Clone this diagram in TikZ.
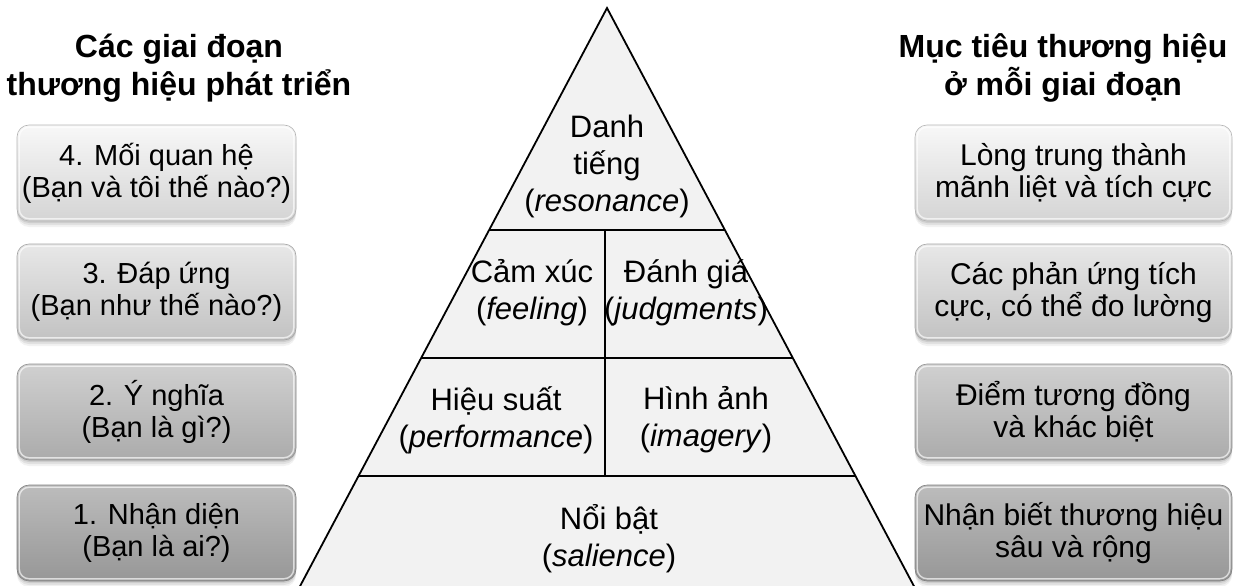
\documentclass[tikz,border=0pt]{standalone}
\usepackage{fontspec}
\setmainfont{Liberation Sans}
\usetikzlibrary{calc}

% fills of the bevelled stage boxes, lightest (top stage) to darkest
\definecolor{lvfourtop}{HTML}{F8F8F8}
\definecolor{lvfourbot}{HTML}{D4D4D4}
\definecolor{lvthreetop}{HTML}{E8E8E8}
\definecolor{lvthreebot}{HTML}{C2C2C2}
\definecolor{lvtwotop}{HTML}{D0D0D0}
\definecolor{lvtwobot}{HTML}{ABABAB}
\definecolor{lvonetop}{HTML}{BCBCBC}
\definecolor{lvonebot}{HTML}{979797}
\definecolor{pyrfill}{HTML}{F2F2F2}

\begin{document}
\begin{tikzpicture}[x=1pt,y=-1pt,
  pyrline/.style={line width=1.8pt, line cap=butt},
  lbl/.style={align=center, font=\fontsize{31}{37}\selectfont, inner sep=0pt},
  head/.style={align=center, font=\bfseries\fontsize{32}{38}\selectfont, inner sep=0pt},
  stagebox/.style 2 args={rounded corners=12pt, minimum height=96pt,
    inner sep=0pt, align=center, font=\fontsize{29}{32}\selectfont,
    top color=#1, bottom color=#2, draw=#2!85!black, line width=0.6pt,
    preaction={fill=black, fill opacity=0.05, transform canvas={yshift=-6pt}},
    preaction={fill=black, fill opacity=0.07, transform canvas={yshift=-4pt}},
    preaction={fill=black, fill opacity=0.09, transform canvas={yshift=-2pt}}},
  leftbox/.style={minimum width=279pt},
  rightbox/.style={minimum width=317pt, font=\fontsize{30}{32}\selectfont},
  rim/.style={draw=white, draw opacity=0.65, line width=1.4pt, rounded corners=10pt},
]
\useasboundingbox (0,0) rectangle (1240,586);

% ---------- pyramid ----------
\coordinate (apex) at (607,8);
\coordinate (bl) at (298,590);
\coordinate (br) at (916,590);
\fill[pyrfill] (apex) -- (bl) -- (br) -- cycle;
\draw[pyrline, line join=miter] (bl) -- (apex) -- (br);

\coordinate (l1) at ($(apex)!0.3814!(bl)$);
\coordinate (r1) at ($(apex)!0.3814!(br)$);
\coordinate (l2) at ($(apex)!0.6014!(bl)$);
\coordinate (r2) at ($(apex)!0.6014!(br)$);
\coordinate (l3) at ($(apex)!0.8041!(bl)$);
\coordinate (r3) at ($(apex)!0.8041!(br)$);
\coordinate (dtop) at (605,230);
\coordinate (dbot) at (605,476);

\draw[pyrline] (l1) -- (r1);
\draw[pyrline] (l2) -- (r2);
\draw[pyrline] (l3) -- (r3);
\draw[pyrline] (dtop) -- (dbot);

\node[lbl] (resonance) at (607,166) {Danh\\tiếng\\(\textit{resonance})};
\node[lbl] (feeling) at (532,293) {Cảm xúc\\(\textit{feeling})};
\node[lbl] (judgments) at (686,293) {Đánh giá\\(\textit{judgments})};
\node[lbl] (performance) at (496,420) {Hiệu suất\\(\textit{performance})};
\node[lbl] (imagery) at (706,420) {Hình ảnh\\(\textit{imagery})};
\node[lbl] (salience) at (609,539) {Nổi bật\\(\textit{salience})};

% ---------- column headings ----------
\node[head] (lefthead) at (179,68) {Các giai đoạn\\thương hiệu phát triển};
\node[head] (righthead) at (1063,68) {Mục tiêu thương hiệu\\ở mỗi giai đoạn};

% ---------- stages (left) ----------
\node[stagebox={lvfourtop}{lvfourbot}, leftbox] (st4) at (156.5,173) {4. Mối quan hệ\\(Bạn và tôi thế nào?)};
\node[stagebox={lvthreetop}{lvthreebot}, leftbox] (st3) at (156.5,292) {3. Đáp ứng\\(Bạn như thế nào?)};
\node[stagebox={lvtwotop}{lvtwobot}, leftbox] (st2) at (156.5,412) {2. Ý nghĩa\\(Bạn là gì?)};
\node[stagebox={lvonetop}{lvonebot}, leftbox] (st1) at (156.5,533) {1. Nhận diện\\(Bạn là ai?)};

% ---------- goals (right) ----------
\node[stagebox={lvfourtop}{lvfourbot}, rightbox] (go4) at (1073.5,173) {Lòng trung thành\\mãnh liệt và tích cực};
\node[stagebox={lvthreetop}{lvthreebot}, rightbox] (go3) at (1073.5,292) {Các phản ứng tích\\cực, có thể đo lường};
\node[stagebox={lvtwotop}{lvtwobot}, rightbox] (go2) at (1073.5,412) {Điểm tương đồng\\và khác biệt};
\node[stagebox={lvonetop}{lvonebot}, rightbox] (go1) at (1073.5,533) {Nhận biết thương hiệu\\sâu và rộng};

% inner light rims giving the bevelled look
\foreach \b in {st4,st3,st2,st1,go4,go3,go2,go1}{
  \draw[rim] ([shift={(2.5,2.5)}]\b.north west) rectangle ([shift={(-2.5,-2.5)}]\b.south east);
}
\end{tikzpicture}
\end{document}
